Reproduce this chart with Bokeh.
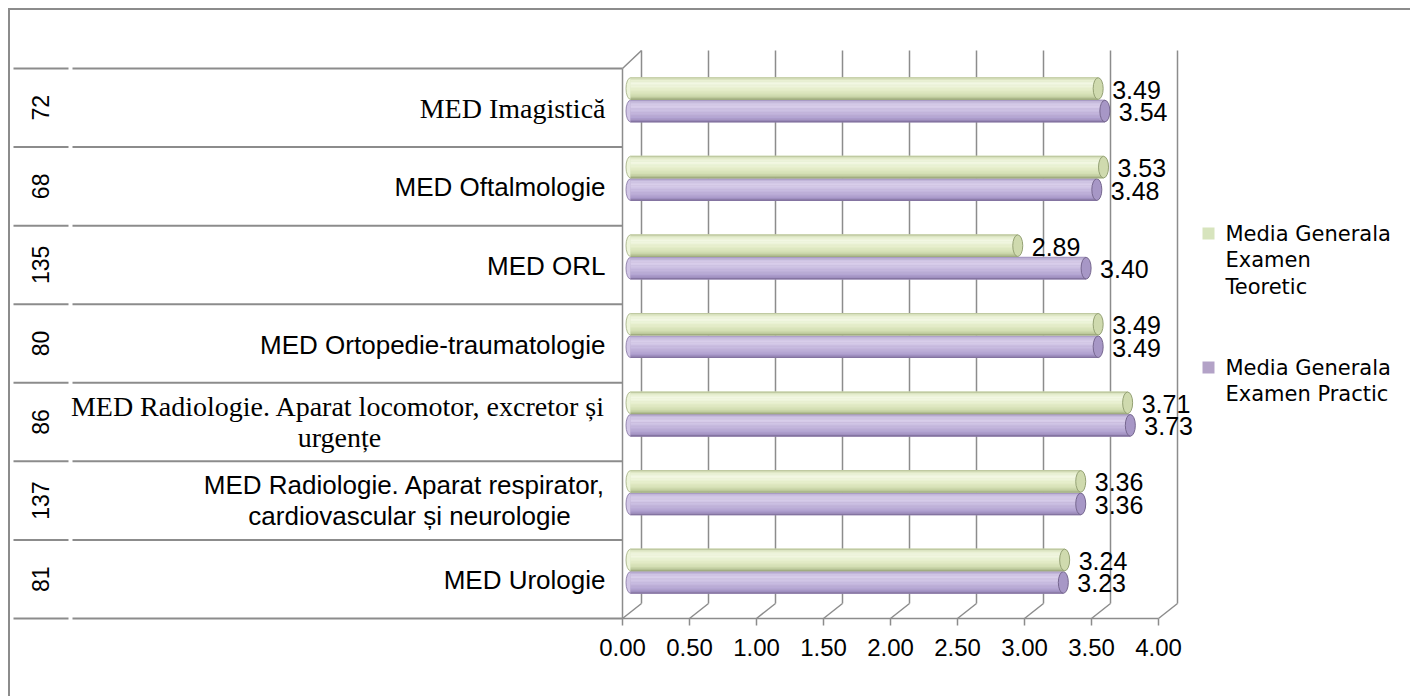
from math import pi
from bokeh.plotting import figure
from bokeh.models import Range1d, FixedTicker, NumeralTickFormatter, ColumnDataSource
from bokeh.core.properties import value
from bokeh.embed import file_html
from bokeh.resources import INLINE

# ---------------- data (bottom row first) ----------------
categories = [
    "MED Urologie",
    "MED Radiologie. Aparat respirator,\ncardiovascular și neurologie",
    "MED Radiologie. Aparat locomotor, excretor și\nurgențe",
    "MED Ortopedie-traumatologie",
    "MED ORL",
    "MED Oftalmologie",
    "MED Imagistică",
]
counts = [81, 137, 86, 80, 135, 68, 72]
teoretic = [3.24, 3.36, 3.71, 3.49, 2.89, 3.53, 3.49]
practic = [3.23, 3.36, 3.73, 3.49, 3.40, 3.48, 3.54]
x_ticks = [0.0, 0.5, 1.0, 1.5, 2.0, 2.5, 3.0, 3.5, 4.0]
series_names = ["Media Generala\nExamen\nTeoretic", "Media Generala\nExamen Practic"]

# ---------------- styles / layout ----------------
serif_rows = {"MED Imagistică", "MED Radiologie. Aparat locomotor, excretor și\nurgențe"}
second_line_shift = {  # centre of the 2nd line, px left of the front axis
    "MED Radiologie. Aparat respirator,\ncardiovascular și neurologie": -213,
    "MED Radiologie. Aparat locomotor, excretor și\nurgențe": -283,
}
FW, FH = 1400, 622
PPU = 134.0          # px per value unit
RU = 78.57           # px per category row
GRID = "#8c8c8c"
GREEN, PURPLE = "#d7e4bd", "#b3a2c7"

def make_range(origin_px, ppu, size):
    return Range1d(-origin_px / ppu, (size - origin_px) / ppu)

front = make_range(612, PPU, FW)
back = make_range(631, PPU, FW)
bars = make_range(620, PPU, FW)
yr = Range1d(-14 / RU, (FH - 14) / RU)

DX = 19 / PPU            # depth offset (value units)
FLOOR_BACK = 15 / RU     # back edge of floor (row units)
WALL_TOP = 568 / RU      # top of back wall
BAR_H = 22.5 / RU
BAR_SHIFT = 8 / RU

def fx(px):  # px offset from front axis -> front units
    return px / PPU

def hex2rgb(h):
    return tuple(int(h[i:i + 2], 16) for i in (1, 3, 5))

def gradient(stops, nb):
    out = []
    for k in range(nb):
        t = (k + 0.5) / nb
        for (t0, c0), (t1, c1) in zip(stops[:-1], stops[1:]):
            if t0 <= t <= t1:
                f = (t - t0) / (t1 - t0)
                a, b = hex2rgb(c0), hex2rgb(c1)
                out.append("#%02x%02x%02x" % tuple(round(x + (y - x) * f) for x, y in zip(a, b)))
                break
    return out

p = figure(frame_width=FW, frame_height=FH, x_range=front, y_range=yr,
           output_backend="svg", toolbar_location=None,
           min_border_left=0, min_border_right=0, min_border_top=0, min_border_bottom=64,
           y_axis_location=None, x_axis_location="below",
           background_fill_color="white", border_fill_color="white",
           outline_line_color=None)
p.styles = {"margin-left": "8px", "margin-top": "8px",
            "border-top": "2px solid #8c8c8c", "border-left": "2px solid #8c8c8c"}
p.extra_x_ranges = {"back": back, "bars": bars, "px": Range1d(0, FW)}
p.extra_y_ranges = {"px": Range1d(FH, 0)}
p.xgrid.visible = False
p.ygrid.visible = False

ax = p.xaxis[0]
ax.ticker = FixedTicker(ticks=x_ticks)
ax.formatter = NumeralTickFormatter(format="0.00")
ax.axis_line_color = None
ax.major_tick_line_color = None
ax.minor_tick_line_color = None
ax.major_tick_out = 0
ax.major_label_standoff = 6
ax.major_label_text_font = "Liberation Sans"
ax.major_label_text_font_size = "24px"
ax.major_label_text_color = "black"

n = len(categories)
rows = list(range(n))

# ---------------- back wall grid & floor ----------------
nt = len(x_ticks)
p.segment(x0=x_ticks, y0=[FLOOR_BACK] * nt, x1=x_ticks, y1=[WALL_TOP] * nt,
          x_range_name="back", line_color=GRID, line_width=1.5)
p.segment(x0=[x_ticks[0]], y0=[0], x1=[x_ticks[-1]], y1=[0], line_color=GRID, line_width=1.5)
p.segment(x0=x_ticks, y0=[0] * nt, x1=x_ticks, y1=[-7 / RU] * nt, line_color=GRID, line_width=1.5)
p.segment(x0=x_ticks, y0=[0] * nt, x1=[t + DX for t in x_ticks], y1=[FLOOR_BACK] * nt,
          line_color=GRID, line_width=1.5)
# left side wall / table edge
p.segment(x0=[0], y0=[0], x1=[0], y1=[n], line_color=GRID, line_width=1.5)
p.segment(x0=[0], y0=[n], x1=[DX], y1=[WALL_TOP], line_color=GRID, line_width=1.5)

# ---------------- table lines ----------------
hl = list(range(n + 1))
p.segment(x0=[fx(13 - 622)] * (n + 1), y0=hl, x1=[fx(68 - 622)] * (n + 1), y1=hl,
          line_color=GRID, line_width=2)
p.segment(x0=[fx(72 - 622)] * (n + 1), y0=hl, x1=[0] * (n + 1), y1=hl,
          line_color=GRID, line_width=2)

# ---------------- cylinders ----------------
green_stops = [(0, "#b3be92"), (0.12, "#e6eecf"), (0.3, "#f3f8e5"), (0.55, "#e6eecb"),
               (0.8, "#d3deb2"), (0.93, "#b8c496"), (1.0, "#8e9b6f")]
purple_stops = [(0, "#9b8dba"), (0.12, "#cdc2e2"), (0.3, "#d9cfeb"), (0.55, "#c7badf"),
                (0.8, "#b3a4d2"), (0.93, "#9a8abc"), (1.0, "#72638c")]

def cylinder(vals, yc, base, stops, cap_fill, cap_line):
    src = ColumnDataSource(dict(y=yc, v=vals, z=[0] * len(vals)))
    bands = gradient(stops, 16)
    p.ellipse(x="z", y="y", width=9, height=BAR_H * 0.96, width_units="screen",
              height_units="data", source=src, x_range_name="bars",
              fill_color=bands[6], line_color=bands[-1], line_width=0.8)
    r = p.hbar(y="y", left="z", right="v", height=BAR_H, source=src, x_range_name="bars",
               fill_color=base, line_color=None)
    nb = len(bands)
    bh = BAR_H / nb
    for k, c in enumerate(bands):
        off = BAR_H / 2 - (k + 0.5) * bh
        p.hbar(y=[y + off for y in yc], left=0, right=vals, height=bh * 1.15,
               x_range_name="bars", fill_color=c, line_color=None)
    p.ellipse(x="v", y="y", width=10, height=BAR_H * 0.96, width_units="screen",
              height_units="data", source=src, x_range_name="bars",
              fill_color=cap_fill, line_color=cap_line, line_width=1)
    return r

yc = [r + 0.5 + BAR_SHIFT for r in rows]
y_green = [y + BAR_H / 2 for y in yc]
y_purple = [y - BAR_H / 2 for y in yc]

cylinder(practic, y_purple, PURPLE, purple_stops, "#a797c6", "#76678f")
cylinder(teoretic, y_green, GREEN, green_stops, "#cfdaae", "#94a174")

# ---------------- data labels ----------------
lab_font = value("Liberation Sans")
p.text(x=teoretic, y=y_green, text=[f"{v:.2f}" for v in teoretic], x_range_name="bars",
       x_offset=14, y_offset=1, text_align="left", text_baseline="middle",
       text_font=lab_font, text_font_size="25px", text_color="black")
p.text(x=practic, y=y_purple, text=[f"{v:.2f}" for v in practic], x_range_name="bars",
       x_offset=14, y_offset=1, text_align="left", text_baseline="middle",
       text_font=lab_font, text_font_size="25px", text_color="black")

# ---------------- category labels ----------------
for r, cat in zip(rows, categories):
    font = "Liberation Serif" if cat in serif_rows else "Liberation Sans"
    size = "28px" if cat in serif_rows else "26px"
    lines = cat.split("\n")
    if len(lines) == 1:
        p.text(x=[0], y=[r + 0.5], text=[lines[0]], x_offset=-17, y_offset=1,
               text_align="right", text_baseline="middle", text_font=value(font),
               text_font_size=size, text_color="black")
    else:
        p.text(x=[0], y=[r + 0.5], text=[lines[0]], x_offset=-17, y_offset=-16,
               text_align="right", text_baseline="middle", text_font=value(font),
               text_font_size=size, text_color="black")
        p.text(x=[0], y=[r + 0.5], text=[lines[1]], x_offset=second_line_shift[cat],
               y_offset=15, text_align="center", text_baseline="middle",
               text_font=value(font), text_font_size=size, text_color="black")

p.text(x=[0] * n, y=[r + 0.5 for r in rows], text=[str(c) for c in counts],
       x_offset=-582, angle=pi / 2, text_align="center", text_baseline="middle",
       text_font=value("Liberation Sans"), text_font_size="23px", text_color="black")

# ---------------- legend (pixel layout from frame top-left) ----------------
leg_x, leg_y = [1198, 1198], [223, 357]
p.scatter(x=leg_x, y=leg_y, marker="square", size=12, fill_color=[GREEN, PURPLE],
          line_color=None, x_range_name="px", y_range_name="px")
for sy, name in zip(leg_y, series_names):
    lines = name.split("\n")
    p.text(x=[1215] * len(lines), y=[sy + 26.5 * k for k in range(len(lines))], text=lines,
           x_range_name="px", y_range_name="px", text_align="left", text_baseline="middle",
           text_font=value("DejaVu Sans"), text_font_size="21px", text_color="black")

open("out.html", "w").write(file_html(p, INLINE))
